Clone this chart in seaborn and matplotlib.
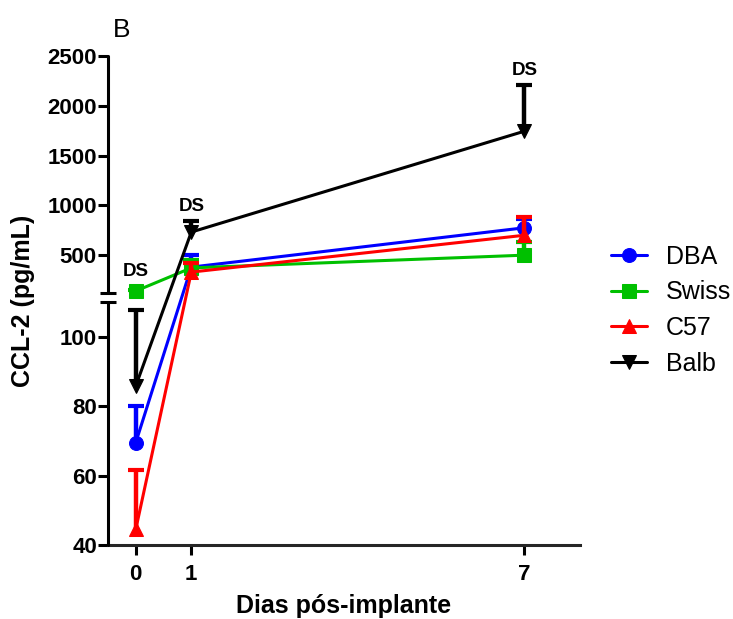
import numpy as np
import seaborn as sns
import matplotlib
matplotlib.use('Agg')
import matplotlib.pyplot as plt

# ----------------------------------------------------------------
# Data
# ----------------------------------------------------------------
days = [0, 1, 7]
strains = ['DBA', 'Swiss', 'C57', 'Balb']
colors = ['#0000FF', '#00C000', '#FF0000', '#000000']
markers = ['o', 's', '^', 'v']

dba_mean = [69.5, 380, 775]
dba_err = [10.5, 125, 90]
swiss_mean = [140, 372, 500]
swiss_err = [10, 78, 135]
c57_mean = [44.5, 330, 700]
c57_err = [17, 90, 185]
balb_mean = [85.8, 732, 1745]
balb_err = [22, 115, 465]

ds_days = [0, 1, 7]
ds_ref = [swiss_mean[0], balb_mean[1] + balb_err[1], balb_mean[2] + balb_err[2]]

means = [dba_mean, swiss_mean, c57_mean, balb_mean]
errs = [dba_err, swiss_err, c57_err, balb_err]

# ----------------------------------------------------------------
# Segmented y axis: 40-110 below, 120-2500 above
# ----------------------------------------------------------------
def fwd(y):
    y = np.asarray(y, dtype=float)
    return np.where(y <= 110, (y - 40) * 243 / 70,
                    np.where(y <= 120, 243 + (y - 110) * 0.9,
                             252 + (y - 120) * 237 / 2380))

def inv(t):
    t = np.asarray(t, dtype=float)
    return np.where(t <= 243, 40 + t * 70 / 243,
                    np.where(t <= 252, 110 + (t - 243) / 0.9,
                             120 + (t - 252) * 2380 / 237))

sns.set_style('ticks')
plt.rcParams['font.family'] = ['Liberation Sans', 'DejaVu Sans']
plt.rcParams['text.color'] = 'black'
plt.rcParams['axes.labelcolor'] = 'black'
plt.rcParams['xtick.color'] = 'black'
plt.rcParams['ytick.color'] = 'black'

fig = plt.figure(figsize=(7.33, 6.19), dpi=100)
ax = fig.add_axes([108 / 733, 1 - 545 / 619, 472 / 733, 489 / 619])
ax.set_yscale('function', functions=(fwd, inv))

for name, col, mk, m, e in zip(strains, colors, markers, means, errs):
    _, caps, _ = ax.errorbar(days, m, yerr=[np.zeros(len(e)), e], fmt='none',
                             ecolor=col, elinewidth=3.2, capsize=5.5, capthick=3,
                             clip_on=False, zorder=3)
    # only the upper whisker is shown
    for cl in caps:
        if np.allclose(cl.get_ydata(), m):
            cl.set_visible(False)
    sns.lineplot(x=days, y=m, color=col, marker=mk, markersize=10,
                 markeredgecolor=col, linewidth=2.2, label=name, ax=ax,
                 clip_on=False, zorder=3)

for d, v in zip(ds_days, ds_ref):
    off = 8 if d == 0 else 4
    ax.annotate('DS', (d, v), xytext=(0, off), textcoords='offset points',
                ha='center', va='bottom', fontsize=13.5, fontweight='bold')

ax.set_xlim(-0.5, 8)
ax.set_ylim(40, 2500)
ax.set_xticks(days)
ax.set_yticks([40, 60, 80, 100, 500, 1000, 1500, 2000, 2500])
ax.set_yticks([110, 120], minor=True)
ax.tick_params(axis='both', which='major', direction='out', length=7, width=2.2,
               labelsize=16)
ax.tick_params(axis='x', which='major', pad=7)
ax.tick_params(axis='y', which='major', pad=1)
ax.tick_params(axis='y', which='minor', direction='inout', length=12, width=2.2)
for lab in ax.get_xticklabels() + ax.get_yticklabels():
    lab.set_fontweight('bold')

ax.spines['top'].set_visible(False)
ax.spines['right'].set_visible(False)
ax.spines['left'].set_visible(False)
ax.spines['bottom'].set_linewidth(2.2)
for lo, hi in [(40, 110), (120, 2500)]:
    ax.plot([0, 0], [lo, hi], color='black', linewidth=2.2,
            transform=ax.get_yaxis_transform(), clip_on=False, zorder=4)

ax.set_xlabel('Dias pós-implante', fontsize=18, fontweight='bold', labelpad=6)
ax.set_ylabel('CCL-2 (pg/mL)', fontsize=18, fontweight='bold', labelpad=9)

fig.text(122 / 733, 1 - 30 / 619, 'B', fontsize=19, ha='center', va='center')

ax.legend(loc='upper left', bbox_to_anchor=(588 / 733, 1 - 222 / 619),
          bbox_transform=fig.transFigure, frameon=False, fontsize=18,
          handlelength=1.45, handletextpad=0.75, labelspacing=0.47)

fig.savefig('out.png', dpi=100)
